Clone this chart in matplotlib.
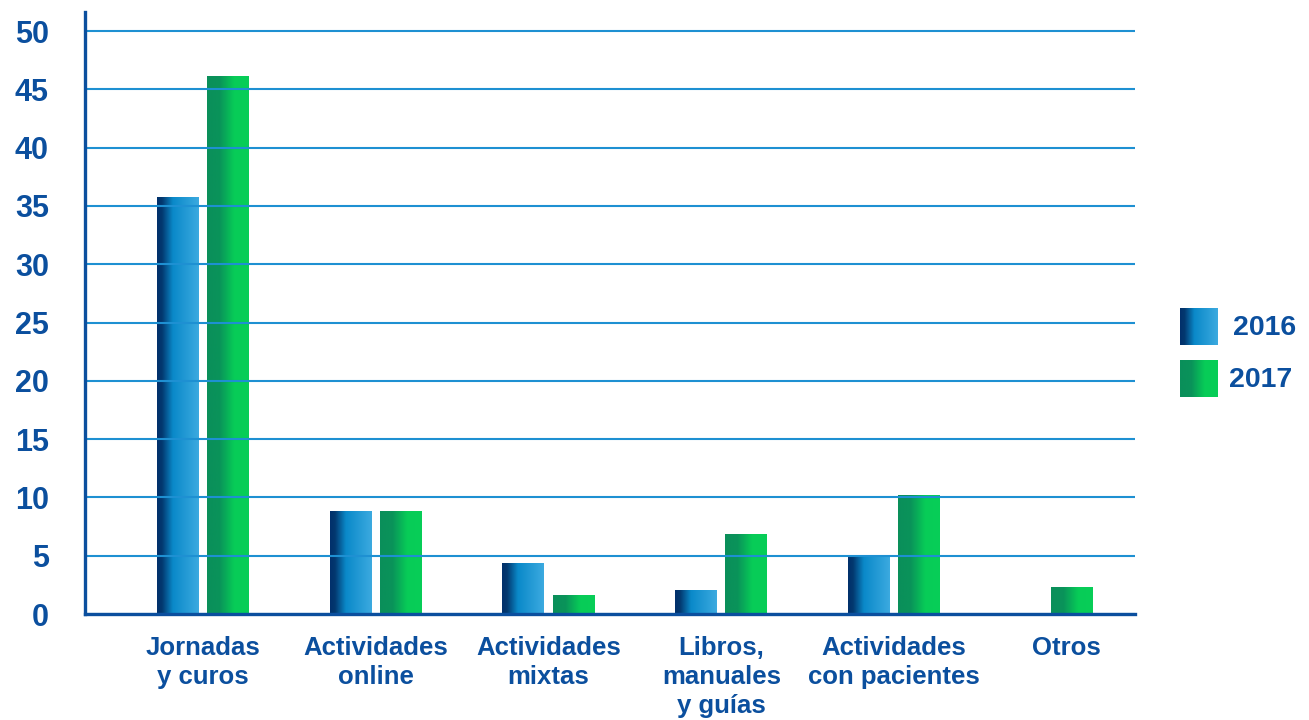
import numpy as np
import matplotlib
matplotlib.use("Agg")
import matplotlib.pyplot as plt
from matplotlib.colors import LinearSegmentedColormap

categorias = ["Jornadas\ny curos", "Actividades\nonline", "Actividades\nmixtas",
              "Libros,\nmanuales\ny guías", "Actividades\ncon pacientes", "Otros"]
v2016 = [35.8, 8.8, 4.4, 2.1, 5.1, 0]
v2017 = [46.1, 8.8, 1.6, 6.9, 10.2, 2.3]
series = ["2016", "2017"]

azul_txt = "#0B4F9E"
grid_c = "#1E90D2"

cm_azul = LinearSegmentedColormap.from_list(
    "azul", [(0, "#01306B"), (0.12, "#03386F"), (0.38, "#0A89C9"), (1, "#3CAAE0")])
cm_verde = LinearSegmentedColormap.from_list(
    "verde", [(0, "#0A8F5A"), (0.3, "#0A935A"), (0.65, "#07CC57"), (1, "#08CE58")])
grad = np.linspace(0, 1, 256).reshape(1, -1)

plt.rcParams["font.family"] = ["Liberation Sans", "DejaVu Sans"]
plt.rcParams["font.weight"] = "bold"

fig = plt.figure(figsize=(13.09, 7.2), dpi=100)
ax = fig.add_axes([85/1309, 106/720, 1050/1309, 602/720])

w = 0.243
off = 0.145
x = np.arange(len(categorias))
x16 = []
x17 = []
for i in x:
    if v2016[i] == 0:
        x16.append(i)
        x17.append(i + 0.03)
    else:
        x16.append(i - off)
        x17.append(i + off)

def barras_gradiente(xs, vals, cmap):
    bars = ax.bar(xs, vals, w, facecolor="none", edgecolor="none")
    for b in bars:
        if b.get_height() <= 0:
            continue
        x0, y0 = b.get_x(), b.get_y()
        im = ax.imshow(grad, cmap=cmap, aspect="auto", zorder=1,
                       extent=[x0, x0 + b.get_width(), y0, y0 + b.get_height()])
        im.set_clip_path(b)

barras_gradiente(x16, v2016, cm_azul)
barras_gradiente(x17, v2017, cm_verde)

ax.set_xlim(-0.683, 5.395)
ax.set_ylim(0, 51.63)
ax.set_yticks(range(0, 51, 5))
ax.set_xticks(x)
ax.set_xticklabels(categorias, fontsize=18.5, color=azul_txt, linespacing=1.25)
ax.tick_params(axis="y", length=0, pad=26, labelsize=22, labelcolor=azul_txt)
ax.tick_params(axis="x", length=0, pad=16)
for t in ax.get_yticklabels():
    t.set_fontweight("bold")
for t in ax.get_xticklabels():
    t.set_fontweight("bold")

ax.set_axisbelow(False)
ax.yaxis.grid(True, color=grid_c, linewidth=1.5)
for s in ["top", "right"]:
    ax.spines[s].set_visible(False)
for s in ["left", "bottom"]:
    ax.spines[s].set_color(azul_txt)
    ax.spines[s].set_linewidth(2.4)
    ax.spines[s].set_zorder(3)

# leyenda con cuadros en degradado
for k, (cmap, nombre) in enumerate(zip([cm_azul, cm_verde], series)):
    top = 308 + k * 52
    lax = fig.add_axes([1180/1309, (720 - top - 37)/720, 38/1309, 37/720])
    lax.imshow(grad, cmap=cmap, aspect="auto")
    lax.axis("off")
    fig.text((1233 - 4 * k)/1309, (720 - top - 20)/720, nombre, fontsize=20.5,
             fontweight="bold", color=azul_txt, va="center", ha="left")

fig.savefig("out.png", dpi=100)
